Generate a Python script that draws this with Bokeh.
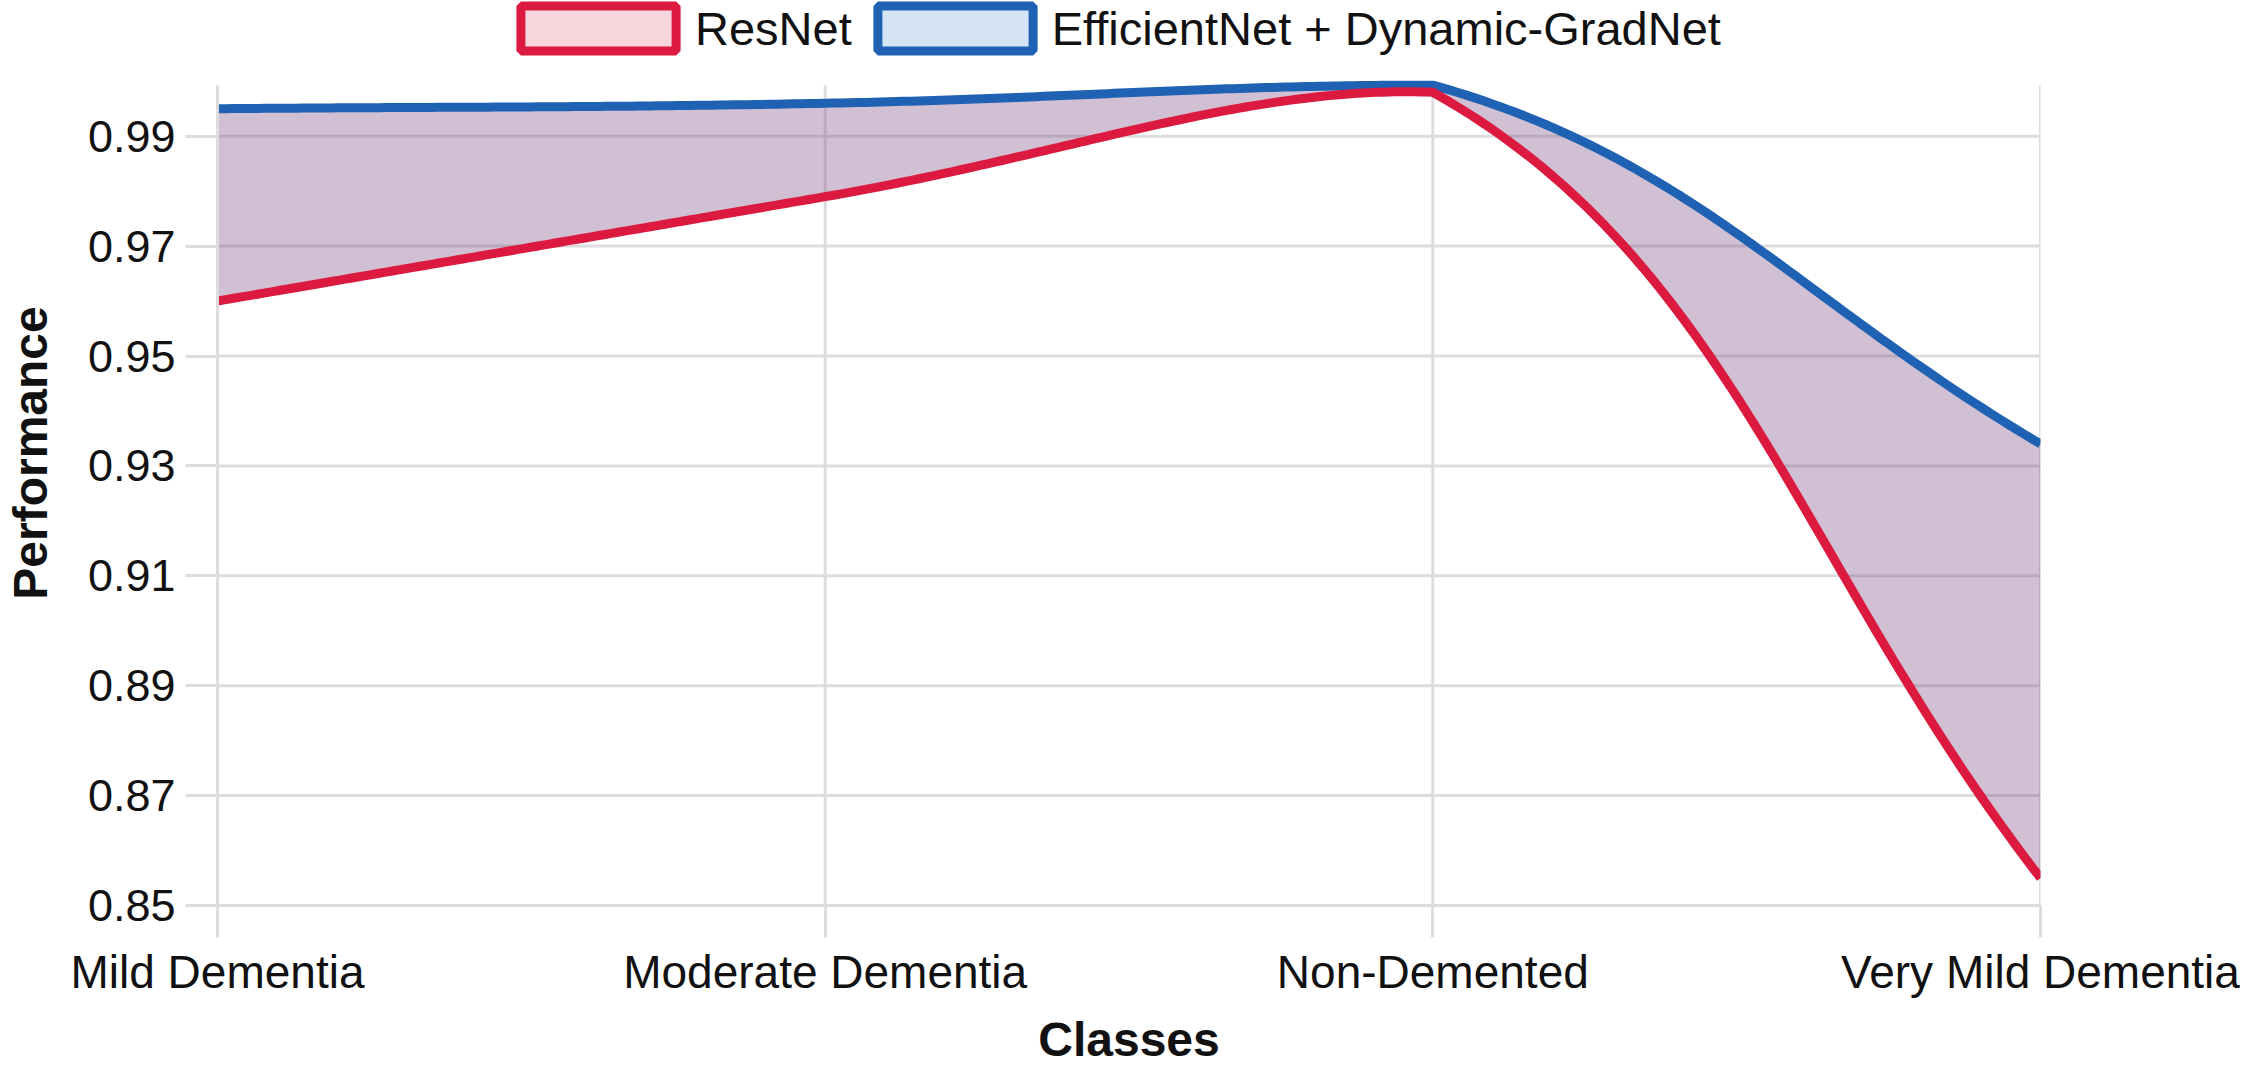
import numpy as np
from bokeh.plotting import figure
from bokeh.models import Range1d, FixedTicker, Legend, LegendItem, ColumnDataSource
from bokeh.embed import file_html
from bokeh.resources import INLINE

# ---------------- data ----------------
classes = ["Mild Dementia", "Moderate Dementia", "Non-Demented", "Very Mild Dementia"]
resnet = [0.960, 0.979, 0.998, 0.855]
effnet = [0.995, 0.996, 0.9993, 0.934]
y_ticks = [0.85, 0.87, 0.89, 0.91, 0.93, 0.95, 0.97, 0.99]
series_names = ["ResNet", "EfficientNet + Dynamic-GradNet"]

Y_MIN = 0.85
Y_MAX = max(effnet + resnet)

# ---------------- layout ----------------
W, H = 2240, 1068
B_LEFT, B_RIGHT, B_BOTTOM = 208, 200, 159
LEGEND_H = 85                      # space above the data area kept for the legend
FRAME_W = W - B_LEFT - B_RIGHT
FRAME_TOTAL_H = H - B_BOTTOM
DATA_H = FRAME_TOTAL_H - LEGEND_H  # pixel height of the Y_MIN..Y_MAX area
Y_TOP = Y_MIN + (Y_MAX - Y_MIN) * FRAME_TOTAL_H / DATA_H

RED = "#dc1a40"
BLUE = "#1f62b3"
GRID = "#dddddd"
FONT = "Liberation Sans"
N = len(classes)


def chartjs_spline(vals, tension=0.4, n=90):
    """Chart.js-style cubic bezier (tension 0.4) with control points capped to the chart area."""
    kx = FRAME_W / (len(vals) - 1)
    ky = DATA_H / (Y_MAX - Y_MIN)
    pts = [(i * kx, (v - Y_MIN) * ky) for i, v in enumerate(vals)]

    def cap(pt):
        return (min(max(pt[0], 0), FRAME_W), min(max(pt[1], 0), DATA_H))

    cps = []
    for i, cur in enumerate(pts):
        prev = pts[i - 1] if i > 0 else cur
        nxt = pts[i + 1] if i < len(pts) - 1 else cur
        d01 = np.hypot(cur[0] - prev[0], cur[1] - prev[1])
        d12 = np.hypot(nxt[0] - cur[0], nxt[1] - cur[1])
        tot = d01 + d12
        s01 = d01 / tot if tot else 0.0
        s12 = d12 / tot if tot else 0.0
        fa, fb = tension * s01, tension * s12
        dx, dy = nxt[0] - prev[0], nxt[1] - prev[1]
        cps.append((cap((cur[0] - fa * dx, cur[1] - fa * dy)),
                    cap((cur[0] + fb * dx, cur[1] + fb * dy))))
    t = np.linspace(0, 1, n)
    xs, ys = [], []
    for i in range(len(pts) - 1):
        p0, p1, p2, p3 = pts[i], cps[i][1], cps[i + 1][0], pts[i + 1]
        bx = (1 - t) ** 3 * p0[0] + 3 * (1 - t) ** 2 * t * p1[0] + 3 * (1 - t) * t ** 2 * p2[0] + t ** 3 * p3[0]
        by = (1 - t) ** 3 * p0[1] + 3 * (1 - t) ** 2 * t * p1[1] + 3 * (1 - t) * t ** 2 * p2[1] + t ** 3 * p3[1]
        if i > 0:
            bx, by = bx[1:], by[1:]
        xs.extend(bx / kx)
        ys.extend(by / ky + Y_MIN)
    return np.array(xs), np.array(ys)


rx, ry = chartjs_spline(resnet)
bx, by = chartjs_spline(effnet)

p = figure(width=W, height=H,
           x_range=Range1d(0, N - 1),
           y_range=Range1d(Y_MIN, Y_TOP),
           output_backend="svg", toolbar_location=None,
           min_border_left=B_LEFT, min_border_right=B_RIGHT,
           min_border_top=0, min_border_bottom=B_BOTTOM)
p.outline_line_color = None
p.background_fill_color = "white"
p.border_fill_color = "white"
p.xgrid.visible = False
p.ygrid.visible = False

# grid lines limited to the data area
xt = list(range(N))
p.segment(x0=xt, y0=[Y_MIN] * N, x1=xt, y1=[Y_MAX] * N, line_color=GRID, line_width=3)
p.segment(x0=[0] * len(y_ticks), y0=y_ticks, x1=[N - 1] * len(y_ticks), y1=y_ticks,
          line_color=GRID, line_width=3)

# fill between the two curves
p.patch(np.concatenate([bx, rx[::-1]]), np.concatenate([by, ry[::-1]]),
        fill_color="#784682", fill_alpha=0.34, line_color=None)

# lines (ResNet on top)
p.line(bx, by, line_color=BLUE, line_width=9, line_join="round")
p.line(rx, ry, line_color=RED, line_width=9, line_join="round")

# legend proxies (no visible data)
proxy = ColumnDataSource(dict(l=[np.nan], r=[np.nan], t=[np.nan], b=[np.nan]))
r_leg = p.quad(left="l", right="r", top="t", bottom="b", source=proxy,
               fill_color="#f7d5dd", line_color=RED, line_width=9)
b_leg = p.quad(left="l", right="r", top="t", bottom="b", source=proxy,
               fill_color="#d4e4f4", line_color=BLUE, line_width=9)
LEG_GH = 56
legend = Legend(items=[LegendItem(label=series_names[0], renderers=[r_leg]),
                       LegendItem(label=series_names[1], renderers=[b_leg])],
                orientation="horizontal", location=(284, FRAME_TOTAL_H - LEG_GH - 4),
                glyph_width=194, glyph_height=LEG_GH, label_height=LEG_GH,
                label_text_font=FONT, label_text_font_size="47px",
                label_text_color="#111111", label_standoff=0, spacing=6,
                padding=0, margin=0, border_line_color=None, background_fill_alpha=0)
p.add_layout(legend, "center")

# axes
p.xaxis.ticker = FixedTicker(ticks=xt)
p.xaxis.major_label_overrides = {i: c for i, c in enumerate(classes)}
p.yaxis.ticker = FixedTicker(ticks=y_ticks)
p.yaxis.bounds = (Y_MIN, Y_MAX)

for ax in (p.xaxis, p.yaxis):
    ax.axis_line_color = GRID
    ax.axis_line_width = 3
    ax.major_tick_line_color = GRID
    ax.major_tick_line_width = 3
    ax.major_tick_out = 32
    ax.major_tick_in = 0
    ax.minor_tick_line_color = None
    ax.major_label_text_font = FONT
    ax.major_label_text_color = "#111111"
    ax.axis_label_text_font = FONT
    ax.axis_label_text_font_size = "48px"
    ax.axis_label_text_font_style = "bold"
    ax.axis_label_text_color = "#111111"

p.xaxis.major_label_text_font_size = "46px"
p.yaxis.major_label_text_font_size = "45px"
p.xaxis.axis_label = "Classes"
p.yaxis.axis_label = "Performance"
p.xaxis.major_label_standoff = 8
p.yaxis.major_label_standoff = 10
p.xaxis.axis_label_standoff = 12
p.yaxis.axis_label_standoff = 28

open("out.html", "w").write(file_html(p, INLINE))
